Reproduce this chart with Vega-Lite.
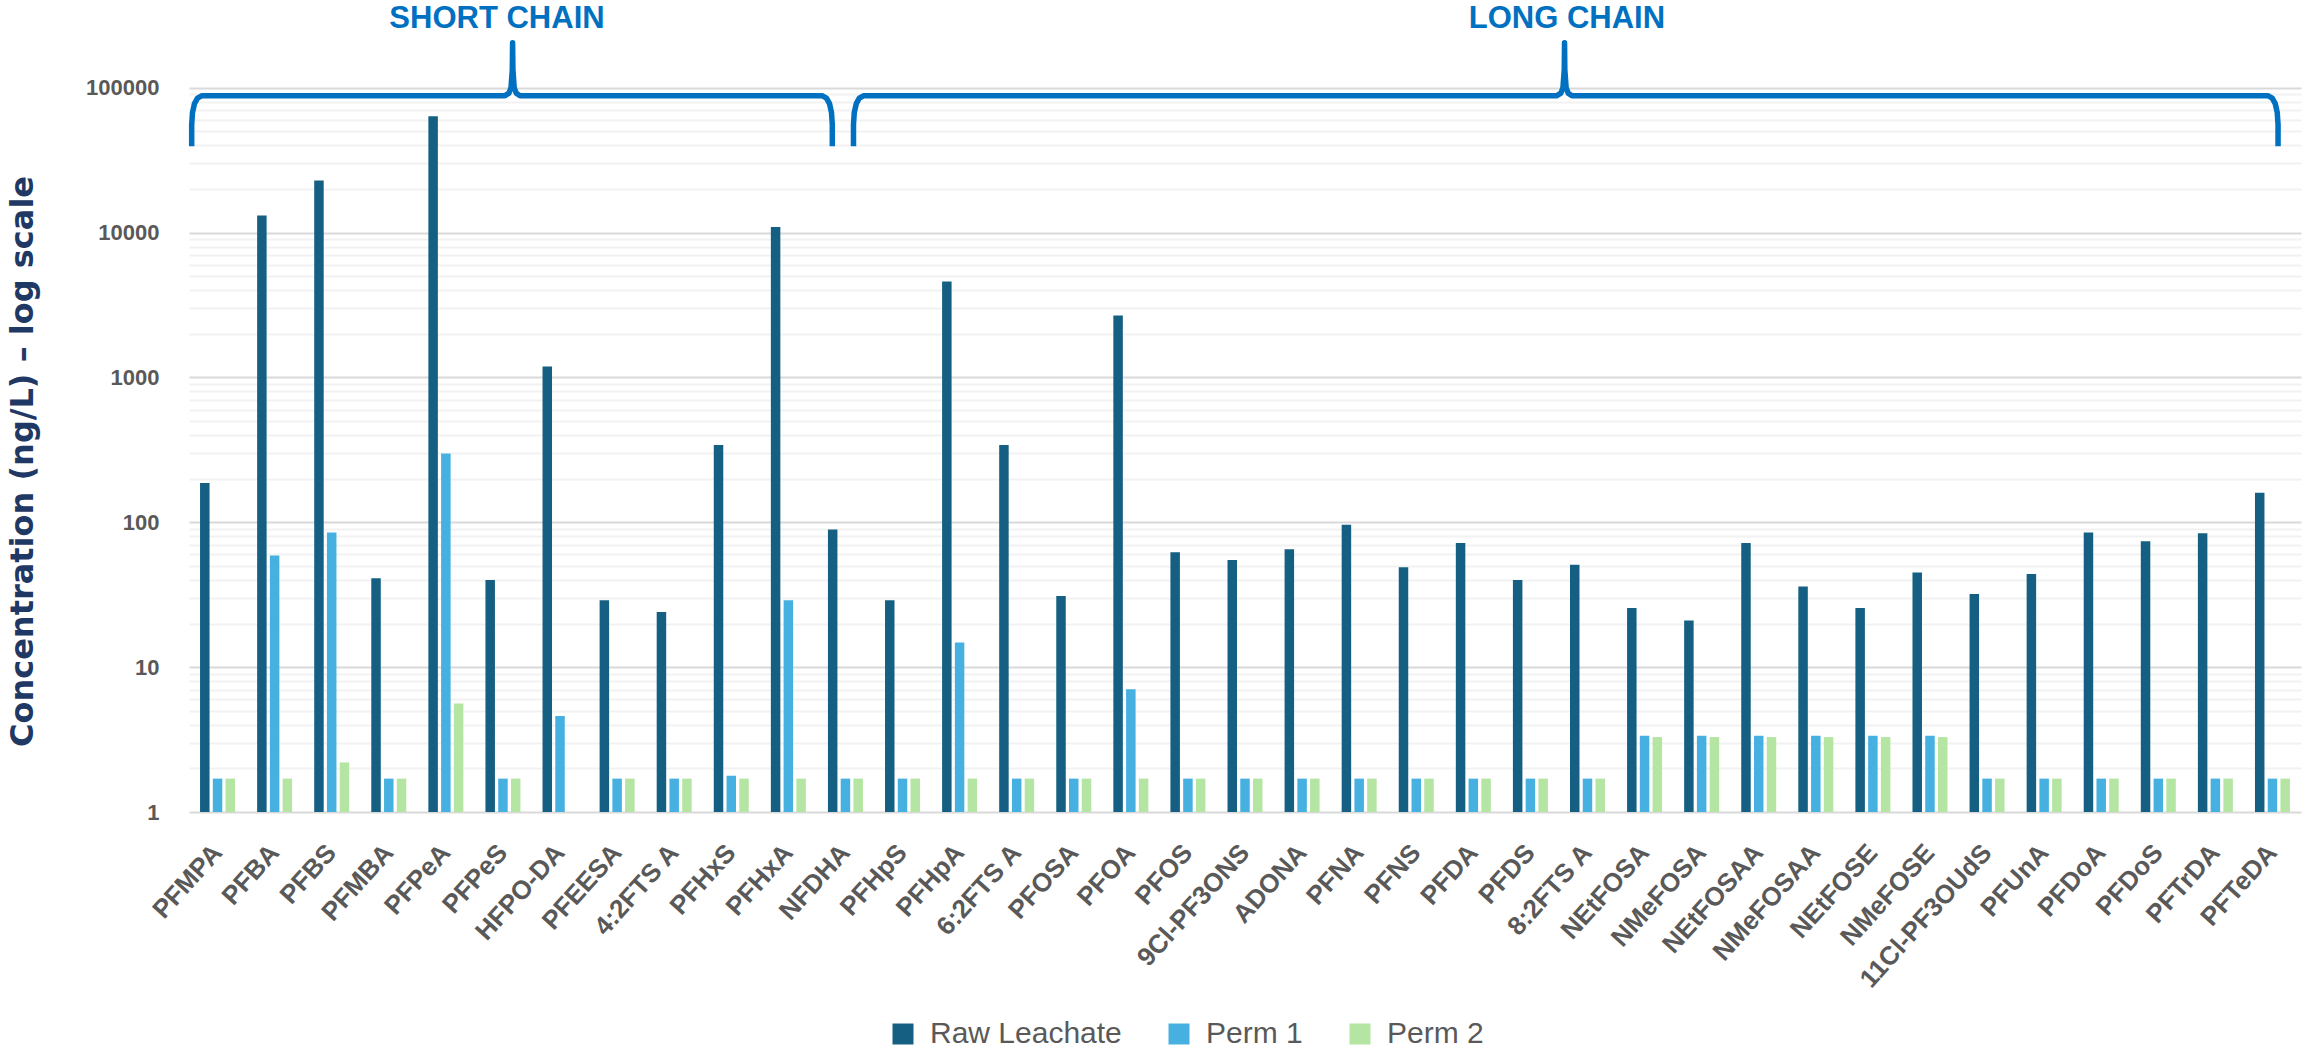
{
  "$schema": "https://vega.github.io/schema/vega-lite/v6.json",
  "autosize": {"type": "none"},
  "padding": {"left": 189, "top": 8, "right": 4, "bottom": 240},
  "width": 2112,
  "height": 804,
  "background": "white",
  "config": {"view": {"stroke": null}, "font": "Liberation Sans"},
  "datasets": {
    "conc": [
      {"compound": "PFMPA", "sample": "Raw Leachate", "value": 187}, {"compound": "PFMPA", "sample": "Perm 1", "value": 1.7}, {"compound": "PFMPA", "sample": "Perm 2", "value": 1.7},
      {"compound": "PFBA", "sample": "Raw Leachate", "value": 13100}, {"compound": "PFBA", "sample": "Perm 1", "value": 59}, {"compound": "PFBA", "sample": "Perm 2", "value": 1.7},
      {"compound": "PFBS", "sample": "Raw Leachate", "value": 22900}, {"compound": "PFBS", "sample": "Perm 1", "value": 85}, {"compound": "PFBS", "sample": "Perm 2", "value": 2.2},
      {"compound": "PFMBA", "sample": "Raw Leachate", "value": 41}, {"compound": "PFMBA", "sample": "Perm 1", "value": 1.7}, {"compound": "PFMBA", "sample": "Perm 2", "value": 1.7},
      {"compound": "PFPeA", "sample": "Raw Leachate", "value": 63400}, {"compound": "PFPeA", "sample": "Perm 1", "value": 298}, {"compound": "PFPeA", "sample": "Perm 2", "value": 5.6},
      {"compound": "PFPeS", "sample": "Raw Leachate", "value": 40}, {"compound": "PFPeS", "sample": "Perm 1", "value": 1.7}, {"compound": "PFPeS", "sample": "Perm 2", "value": 1.7},
      {"compound": "HFPO-DA", "sample": "Raw Leachate", "value": 1190}, {"compound": "HFPO-DA", "sample": "Perm 1", "value": 4.6},
      {"compound": "PFEESA", "sample": "Raw Leachate", "value": 29}, {"compound": "PFEESA", "sample": "Perm 1", "value": 1.7}, {"compound": "PFEESA", "sample": "Perm 2", "value": 1.7},
      {"compound": "4:2FTS A", "sample": "Raw Leachate", "value": 24}, {"compound": "4:2FTS A", "sample": "Perm 1", "value": 1.7}, {"compound": "4:2FTS A", "sample": "Perm 2", "value": 1.7},
      {"compound": "PFHxS", "sample": "Raw Leachate", "value": 341}, {"compound": "PFHxS", "sample": "Perm 1", "value": 1.78}, {"compound": "PFHxS", "sample": "Perm 2", "value": 1.7},
      {"compound": "PFHxA", "sample": "Raw Leachate", "value": 10900}, {"compound": "PFHxA", "sample": "Perm 1", "value": 29}, {"compound": "PFHxA", "sample": "Perm 2", "value": 1.7},
      {"compound": "NFDHA", "sample": "Raw Leachate", "value": 89}, {"compound": "NFDHA", "sample": "Perm 1", "value": 1.7}, {"compound": "NFDHA", "sample": "Perm 2", "value": 1.7},
      {"compound": "PFHpS", "sample": "Raw Leachate", "value": 29}, {"compound": "PFHpS", "sample": "Perm 1", "value": 1.7}, {"compound": "PFHpS", "sample": "Perm 2", "value": 1.7},
      {"compound": "PFHpA", "sample": "Raw Leachate", "value": 4600}, {"compound": "PFHpA", "sample": "Perm 1", "value": 14.8}, {"compound": "PFHpA", "sample": "Perm 2", "value": 1.7},
      {"compound": "6:2FTS A", "sample": "Raw Leachate", "value": 341}, {"compound": "6:2FTS A", "sample": "Perm 1", "value": 1.7}, {"compound": "6:2FTS A", "sample": "Perm 2", "value": 1.7},
      {"compound": "PFOSA", "sample": "Raw Leachate", "value": 31}, {"compound": "PFOSA", "sample": "Perm 1", "value": 1.7}, {"compound": "PFOSA", "sample": "Perm 2", "value": 1.7},
      {"compound": "PFOA", "sample": "Raw Leachate", "value": 2670}, {"compound": "PFOA", "sample": "Perm 1", "value": 7.05}, {"compound": "PFOA", "sample": "Perm 2", "value": 1.7},
      {"compound": "PFOS", "sample": "Raw Leachate", "value": 62}, {"compound": "PFOS", "sample": "Perm 1", "value": 1.7}, {"compound": "PFOS", "sample": "Perm 2", "value": 1.7},
      {"compound": "9Cl-PF3ONS", "sample": "Raw Leachate", "value": 55}, {"compound": "9Cl-PF3ONS", "sample": "Perm 1", "value": 1.7}, {"compound": "9Cl-PF3ONS", "sample": "Perm 2", "value": 1.7},
      {"compound": "ADONA", "sample": "Raw Leachate", "value": 65}, {"compound": "ADONA", "sample": "Perm 1", "value": 1.7}, {"compound": "ADONA", "sample": "Perm 2", "value": 1.7},
      {"compound": "PFNA", "sample": "Raw Leachate", "value": 96}, {"compound": "PFNA", "sample": "Perm 1", "value": 1.7}, {"compound": "PFNA", "sample": "Perm 2", "value": 1.7},
      {"compound": "PFNS", "sample": "Raw Leachate", "value": 49}, {"compound": "PFNS", "sample": "Perm 1", "value": 1.7}, {"compound": "PFNS", "sample": "Perm 2", "value": 1.7},
      {"compound": "PFDA", "sample": "Raw Leachate", "value": 72}, {"compound": "PFDA", "sample": "Perm 1", "value": 1.7}, {"compound": "PFDA", "sample": "Perm 2", "value": 1.7},
      {"compound": "PFDS", "sample": "Raw Leachate", "value": 40}, {"compound": "PFDS", "sample": "Perm 1", "value": 1.7}, {"compound": "PFDS", "sample": "Perm 2", "value": 1.7},
      {"compound": "8:2FTS A", "sample": "Raw Leachate", "value": 51}, {"compound": "8:2FTS A", "sample": "Perm 1", "value": 1.7}, {"compound": "8:2FTS A", "sample": "Perm 2", "value": 1.7},
      {"compound": "NEtFOSA", "sample": "Raw Leachate", "value": 25.6}, {"compound": "NEtFOSA", "sample": "Perm 1", "value": 3.36}, {"compound": "NEtFOSA", "sample": "Perm 2", "value": 3.29},
      {"compound": "NMeFOSA", "sample": "Raw Leachate", "value": 21}, {"compound": "NMeFOSA", "sample": "Perm 1", "value": 3.36}, {"compound": "NMeFOSA", "sample": "Perm 2", "value": 3.29},
      {"compound": "NEtFOSAA", "sample": "Raw Leachate", "value": 72}, {"compound": "NEtFOSAA", "sample": "Perm 1", "value": 3.36}, {"compound": "NEtFOSAA", "sample": "Perm 2", "value": 3.29},
      {"compound": "NMeFOSAA", "sample": "Raw Leachate", "value": 36}, {"compound": "NMeFOSAA", "sample": "Perm 1", "value": 3.36}, {"compound": "NMeFOSAA", "sample": "Perm 2", "value": 3.29},
      {"compound": "NEtFOSE", "sample": "Raw Leachate", "value": 25.6}, {"compound": "NEtFOSE", "sample": "Perm 1", "value": 3.36}, {"compound": "NEtFOSE", "sample": "Perm 2", "value": 3.29},
      {"compound": "NMeFOSE", "sample": "Raw Leachate", "value": 45}, {"compound": "NMeFOSE", "sample": "Perm 1", "value": 3.36}, {"compound": "NMeFOSE", "sample": "Perm 2", "value": 3.29},
      {"compound": "11Cl-PF3OUdS", "sample": "Raw Leachate", "value": 32}, {"compound": "11Cl-PF3OUdS", "sample": "Perm 1", "value": 1.7}, {"compound": "11Cl-PF3OUdS", "sample": "Perm 2", "value": 1.7},
      {"compound": "PFUnA", "sample": "Raw Leachate", "value": 44}, {"compound": "PFUnA", "sample": "Perm 1", "value": 1.7}, {"compound": "PFUnA", "sample": "Perm 2", "value": 1.7},
      {"compound": "PFDoA", "sample": "Raw Leachate", "value": 85}, {"compound": "PFDoA", "sample": "Perm 1", "value": 1.7}, {"compound": "PFDoA", "sample": "Perm 2", "value": 1.7},
      {"compound": "PFDoS", "sample": "Raw Leachate", "value": 74}, {"compound": "PFDoS", "sample": "Perm 1", "value": 1.7}, {"compound": "PFDoS", "sample": "Perm 2", "value": 1.7},
      {"compound": "PFTrDA", "sample": "Raw Leachate", "value": 84}, {"compound": "PFTrDA", "sample": "Perm 1", "value": 1.7}, {"compound": "PFTrDA", "sample": "Perm 2", "value": 1.7},
      {"compound": "PFTeDA", "sample": "Raw Leachate", "value": 160}, {"compound": "PFTeDA", "sample": "Perm 1", "value": 1.7}, {"compound": "PFTeDA", "sample": "Perm 2", "value": 1.7}
    ],
    "braces": [
      {"brace": "short", "ord": 1, "pos": 0.047, "level": 39480},
      {"brace": "short", "ord": 2, "pos": 0.047, "level": 55550},
      {"brace": "short", "ord": 3, "pos": 0.061, "level": 67220},
      {"brace": "short", "ord": 4, "pos": 0.096, "level": 77550},
      {"brace": "short", "ord": 5, "pos": 0.149, "level": 84630},
      {"brace": "short", "ord": 6, "pos": 0.228, "level": 88060},
      {"brace": "short", "ord": 7, "pos": 5.536, "level": 88060},
      {"brace": "short", "ord": 8, "pos": 5.606, "level": 91650},
      {"brace": "short", "ord": 9, "pos": 5.641, "level": 100000},
      {"brace": "short", "ord": 10, "pos": 5.664, "level": 133100},
      {"brace": "short", "ord": 11, "pos": 5.669, "level": 204400},
      {"brace": "short", "ord": 12, "pos": 5.675, "level": 133100},
      {"brace": "short", "ord": 13, "pos": 5.697, "level": 100000},
      {"brace": "short", "ord": 14, "pos": 5.732, "level": 91650},
      {"brace": "short", "ord": 15, "pos": 5.799, "level": 88060},
      {"brace": "short", "ord": 16, "pos": 11.090, "level": 88060},
      {"brace": "short", "ord": 17, "pos": 11.168, "level": 84630},
      {"brace": "short", "ord": 18, "pos": 11.221, "level": 77550},
      {"brace": "short", "ord": 19, "pos": 11.256, "level": 67220},
      {"brace": "short", "ord": 20, "pos": 11.270, "level": 55550},
      {"brace": "short", "ord": 21, "pos": 11.270, "level": 39480},
      {"brace": "long", "ord": 1, "pos": 11.641, "level": 39480},
      {"brace": "long", "ord": 2, "pos": 11.641, "level": 55550},
      {"brace": "long", "ord": 3, "pos": 11.655, "level": 67220},
      {"brace": "long", "ord": 4, "pos": 11.690, "level": 77550},
      {"brace": "long", "ord": 5, "pos": 11.743, "level": 84630},
      {"brace": "long", "ord": 6, "pos": 11.822, "level": 88060},
      {"brace": "long", "ord": 7, "pos": 23.964, "level": 88060},
      {"brace": "long", "ord": 8, "pos": 24.035, "level": 91650},
      {"brace": "long", "ord": 9, "pos": 24.070, "level": 100000},
      {"brace": "long", "ord": 10, "pos": 24.093, "level": 133100},
      {"brace": "long", "ord": 11, "pos": 24.098, "level": 204400},
      {"brace": "long", "ord": 12, "pos": 24.103, "level": 133100},
      {"brace": "long", "ord": 13, "pos": 24.126, "level": 100000},
      {"brace": "long", "ord": 14, "pos": 24.161, "level": 91650},
      {"brace": "long", "ord": 15, "pos": 24.227, "level": 88060},
      {"brace": "long", "ord": 16, "pos": 36.417, "level": 88060},
      {"brace": "long", "ord": 17, "pos": 36.496, "level": 84630},
      {"brace": "long", "ord": 18, "pos": 36.549, "level": 77550},
      {"brace": "long", "ord": 19, "pos": 36.584, "level": 67220},
      {"brace": "long", "ord": 20, "pos": 36.598, "level": 55550},
      {"brace": "long", "ord": 21, "pos": 36.598, "level": 39480}
    ],
    "braceLabels": [
      {"label": "SHORT CHAIN", "pos": 5.396, "level": 299200},
      {"label": "LONG CHAIN", "pos": 24.14, "level": 299200}
    ]
  },
  "layer": [
    {
      "data": {"name": "conc"},
      "mark": {"type": "bar"},
      "encoding": {
        "x": {
          "field": "compound",
          "type": "nominal",
          "sort": null,
          "scale": {"paddingInner": 0.387, "paddingOuter": 0.1935},
          "axis": {
            "title": null,
            "domain": false,
            "ticks": false,
            "grid": false,
            "labelAngle": -48,
            "labelAlign": "right",
            "labelBaseline": "middle",
            "labelPadding": 36,
            "labelOverlap": false,
            "labelLimit": 400,
            "labelFont": "Liberation Sans",
            "labelFontWeight": "bold",
            "labelFontSize": 26,
            "labelColor": "#595959"
          }
        },
        "xOffset": {
          "field": "sample",
          "type": "nominal",
          "sort": ["Raw Leachate", "Perm 1", "Perm 2"],
          "scale": {"paddingInner": 0.255, "paddingOuter": 0}
        },
        "y": {
          "field": "value",
          "type": "quantitative",
          "scale": {"type": "log", "domain": [1, 354813], "nice": false},
          "axis": {
            "title": "Concentration (ng/L) – log scale",
            "titleFont": "DejaVu Sans",
            "titleFontWeight": "bold",
            "titleFontSize": 32,
            "titleColor": "#1F3864",
            "titleAngle": -90,
            "titleAlign": "center",
            "titleBaseline": "middle",
            "titleX": -167,
            "titleY": 453,
            "values": [1, 2, 3, 4, 5, 6, 7, 8, 9, 10, 20, 30, 40, 50, 60, 70, 80, 90, 100, 200, 300, 400, 500, 600, 700, 800, 900, 1000, 2000, 3000, 4000, 5000, 6000, 7000, 8000, 9000, 10000, 20000, 30000, 40000, 50000, 60000, 70000, 80000, 90000, 100000],
            "labelExpr": "abs(log(datum.value) / LN10 - round(log(datum.value) / LN10)) < 0.001 ? format(datum.value, 'd') : ''",
            "labelOverlap": false,
            "labelFont": "Liberation Sans",
            "labelFontWeight": "bold",
            "labelFontSize": 22,
            "labelColor": "#595959",
            "labelPadding": 30,
            "ticks": false,
            "tickSize": 0,
            "domain": false,
            "grid": true,
            "gridWidth": 2,
            "gridColor": {
              "condition": {"test": "abs(log(datum.value) / LN10 - round(log(datum.value) / LN10)) < 0.001", "value": "#D9D9D9"},
              "value": "#F2F2F2"
            }
          }
        },
        "y2": {"datum": 1},
        "color": {
          "field": "sample",
          "type": "nominal",
          "scale": {"domain": ["Raw Leachate", "Perm 1", "Perm 2"], "range": ["#156082", "#46B1E1", "#B4E5A2"]},
          "legend": {
            "title": null,
            "orient": "none",
            "direction": "horizontal",
            "legendX": 699,
            "legendY": 1011,
            "padding": 0,
            "symbolType": "square",
            "symbolSize": 441,
            "symbolStrokeWidth": 0,
            "labelFont": "Liberation Sans",
            "labelFontSize": 30,
            "labelLimit": 400,
            "labelColor": "#595959",
            "labelOffset": 12,
            "columnPadding": 42
          }
        }
      }
    },
    {
      "data": {"name": "braces"},
      "mark": {"type": "line", "color": "#0070C0", "strokeWidth": 5.5, "strokeJoin": "round", "strokeCap": "butt"},
      "encoding": {
        "x": {"field": "pos", "type": "quantitative", "scale": {"domain": [0, 37], "nice": false, "zero": false}, "axis": null},
        "y": {"field": "level", "type": "quantitative", "scale": {"type": "log", "domain": [1, 354813], "nice": false}},
        "detail": {"field": "brace"},
        "order": {"field": "ord"}
      }
    },
    {
      "data": {"name": "braceLabels"},
      "mark": {"type": "text", "font": "Liberation Sans", "fontWeight": "bold", "fontSize": 31, "color": "#0070C0", "align": "center", "baseline": "middle"},
      "encoding": {
        "x": {"field": "pos", "type": "quantitative", "scale": {"domain": [0, 37], "nice": false, "zero": false}, "axis": null},
        "y": {"field": "level", "type": "quantitative", "scale": {"type": "log", "domain": [1, 354813], "nice": false}},
        "text": {"field": "label"}
      }
    }
  ],
  "resolve": {"scale": {"x": "independent"}}
}
